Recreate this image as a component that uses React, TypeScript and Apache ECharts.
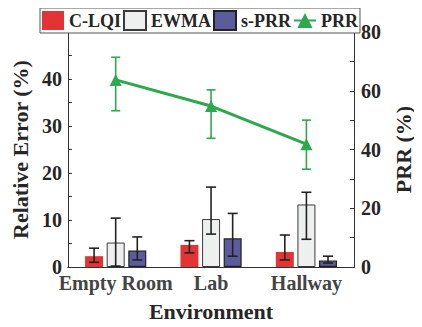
import React, { useEffect, useRef } from "react";
import * as echarts from "echarts";

const categories = ["Empty Room", "Lab", "Hallway"];

const clqi = [2.3, 4.7, 3.2];
const clqiLow = [1.0, 3.0, 1.5];
const clqiHigh = [4.0, 5.6, 6.8];

const ewma = [5.2, 10.2, 13.3];
const ewmaLow = [0.2, 7.0, 5.9];
const ewmaHigh = [10.4, 17.0, 15.9];

const sprr = [3.5, 6.1, 1.4];
const sprrLow = [1.5, 2.3, 0.85];
const sprrHigh = [6.4, 11.4, 2.3];

const prr = [63.7, 54.8, 41.8];
const prrLow = [53.2, 43.8, 33.3];
const prrHigh = [71.4, 60.3, 50.0];

const leftTickLabels = [0, 10, 20, 30, 40];
const rightTickLabels = [0, 20, 40, 60, 80];

const FONT = "Liberation Serif";
const BAR_W = 18;
const BAR_GAP = 3.6;

function errSeries(name: string, low: number[], high: number[], offset: number, color: string, capHalf: number, yAxisIndex: number, lw: number) {
  return {
    type: "custom",
    name,
    xAxisIndex: 0,
    yAxisIndex,
    z: 10,
    silent: true,
    encode: { x: 0, y: [1, 2] },
    data: low.map((l, i) => [i, l, high[i]]),
    renderItem: (params: any, api: any) => {
      const idx = api.value(0);
      const lo = api.coord([idx, api.value(1)]);
      const hi = api.coord([idx, api.value(2)]);
      const x = lo[0] + offset;
      const style = { stroke: color, lineWidth: lw };
      return {
        type: "group",
        children: [
          { type: "line", shape: { x1: x, y1: lo[1], x2: x, y2: hi[1] }, style },
          { type: "line", shape: { x1: x - capHalf, y1: lo[1], x2: x + capHalf, y2: lo[1] }, style },
          { type: "line", shape: { x1: x - capHalf, y1: hi[1], x2: x + capHalf, y2: hi[1] }, style },
        ],
      };
    },
  };
}

export default function App() {
  const ref = useRef<HTMLDivElement>(null);
  useEffect(() => {
    if (!ref.current) return;
    const chart = echarts.init(ref.current, null, { renderer: "svg" });
    const textColor = "#262626";
    const step = BAR_W + BAR_GAP;
    const option: any = {
      animation: false,
      textStyle: { fontFamily: FONT },
      grid: { left: 68, right: 64, top: 32, bottom: 60 },
      legend: {
        left: 40,
        top: 8,
        padding: [2, 2, 2, 2],
        itemGap: 2,
        itemWidth: 22,
        itemHeight: 19,
        backgroundColor: "#ffffff",
        borderColor: "#555",
        borderWidth: 1,
        borderRadius: 0,
        z: 20,
        textStyle: { fontFamily: FONT, fontWeight: "bold", fontSize: 18, color: textColor },
        data: [
          { name: "C-LQI", icon: "rect" },
          { name: "EWMA", icon: "rect" },
          { name: "s-PRR", icon: "rect" },
          { name: "PRR" },
        ],
      },
      xAxis: [
        {
          type: "category",
          data: categories,
          position: "bottom",
          name: "Environment",
          nameLocation: "middle",
          nameGap: 33,
          nameTextStyle: { fontFamily: FONT, fontWeight: "bold", fontSize: 22, color: textColor },
          axisLine: { lineStyle: { color: "#333", width: 1 } },
          axisTick: { inside: true, alignWithLabel: true, length: 4, lineStyle: { color: "#333" } },
          axisLabel: { interval: 0, hideOverlap: false, margin: 6, fontFamily: FONT, fontWeight: "bold", fontSize: 20, color: "#444" },
        },
        {
          type: "category",
          data: categories,
          position: "top",
          axisLine: { lineStyle: { color: "#333", width: 1 } },
          axisTick: { inside: true, alignWithLabel: true, length: 4, lineStyle: { color: "#333" } },
          axisLabel: { show: false },
        },
      ],
      yAxis: [
        {
          type: "value",
          min: 0,
          max: 50,
          interval: 5,
          name: "Relative Error (%)",
          nameLocation: "middle",
          nameGap: 30,
          nameTextStyle: { fontFamily: FONT, fontWeight: "bold", fontSize: 22, color: textColor },
          axisLine: { show: true, lineStyle: { color: "#333", width: 1 } },
          axisTick: { show: true, inside: true, length: 4, lineStyle: { color: "#333" } },
          splitLine: { show: false },
          axisLabel: {
            margin: 6,
            fontFamily: FONT,
            fontWeight: "bold",
            fontSize: 20,
            color: textColor,
            formatter: (v: number) => (leftTickLabels.includes(v) ? String(v) : ""),
          },
        },
        {
          type: "value",
          min: 0,
          max: 80,
          interval: 10,
          position: "right",
          name: "PRR (%)",
          nameLocation: "middle",
          nameGap: 32,
          nameRotate: 90,
          nameTextStyle: { fontFamily: FONT, fontWeight: "bold", fontSize: 22, color: textColor },
          axisLine: { show: true, lineStyle: { color: "#333", width: 1 } },
          axisTick: { show: true, inside: true, length: 4, lineStyle: { color: "#333" } },
          splitLine: { show: false },
          axisLabel: {
            margin: 7,
            fontFamily: FONT,
            fontWeight: "bold",
            fontSize: 20,
            color: textColor,
            formatter: (v: number) => (rightTickLabels.includes(v) ? String(v) : ""),
          },
        },
      ],
      series: [
        {
          type: "bar",
          name: "C-LQI",
          data: clqi,
          barWidth: BAR_W,
          barGap: `${(BAR_GAP / BAR_W) * 100}%`,
          itemStyle: { color: "#e23434", borderColor: "#e23434", borderWidth: 0 },
        },
        {
          type: "bar",
          name: "EWMA",
          data: ewma,
          barWidth: BAR_W,
          barGap: `${(BAR_GAP / BAR_W) * 100}%`,
          itemStyle: { color: "#eef0ef", borderColor: "#3a3a3a", borderWidth: 1 },
        },
        {
          type: "bar",
          name: "s-PRR",
          data: sprr,
          barWidth: BAR_W,
          barGap: `${(BAR_GAP / BAR_W) * 100}%`,
          itemStyle: { color: "#5a5c9c", borderColor: "#222", borderWidth: 1.2 },
        },
        errSeries("err-clqi", clqiLow, clqiHigh, -step, "#222", 5, 0, 1.6),
        errSeries("err-ewma", ewmaLow, ewmaHigh, 0, "#222", 5, 0, 1.6),
        errSeries("err-sprr", sprrLow, sprrHigh, step, "#222", 5, 0, 1.6),
        errSeries("err-prr", prrLow, prrHigh, 0, "#2ea84c", 4.5, 1, 1.6),
        {
          type: "line",
          name: "PRR",
          yAxisIndex: 1,
          data: prr,
          symbol: "triangle",
          symbolSize: 12,
          z: 12,
          lineStyle: { color: "#2ea84c", width: 3 },
          itemStyle: { color: "#2ea84c" },
        },
      ],
    };
    chart.setOption(option);
    return () => chart.dispose();
  }, []);
  return <div ref={ref} style={{ width: 422, height: 327, margin: -8 }} />;
}
